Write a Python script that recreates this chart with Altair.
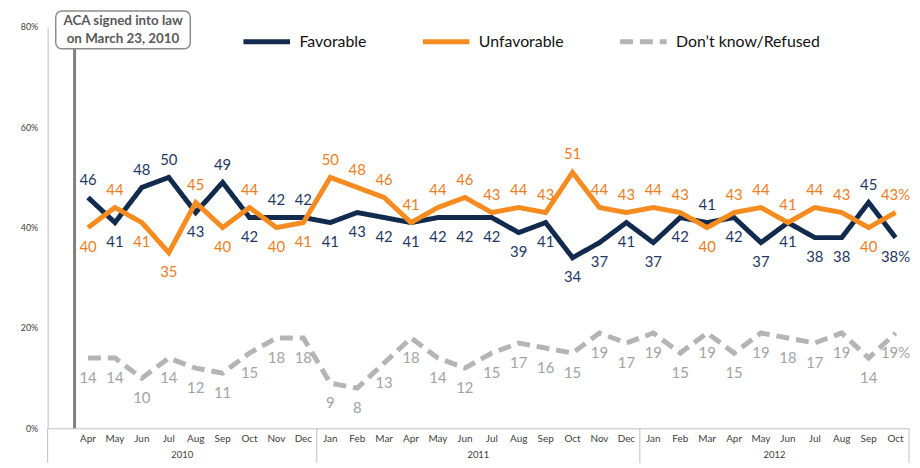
import altair as alt
import pandas as pd

# ---------------- data ----------------
months = ["Apr", "May", "Jun", "Jul", "Aug", "Sep", "Oct", "Nov", "Dec",
          "Jan", "Feb", "Mar", "Apr", "May", "Jun", "Jul", "Aug", "Sep", "Oct", "Nov", "Dec",
          "Jan", "Feb", "Mar", "Apr", "May", "Jun", "Jul", "Aug", "Sep", "Oct"]
years = [2010] * 9 + [2011] * 12 + [2012] * 10
favorable = [46, 41, 48, 50, 43, 49, 42, 42, 42,
             41, 43, 42, 41, 42, 42, 42, 39, 41, 34, 37, 41,
             37, 42, 41, 42, 37, 41, 38, 38, 45, 38]
unfavorable = [40, 44, 41, 35, 45, 40, 44, 40, 41,
               50, 48, 46, 41, 44, 46, 43, 44, 43, 51, 44, 43,
               44, 43, 40, 43, 44, 41, 44, 43, 40, 43]
dont_know = [14, 14, 10, 14, 12, 11, 15, 18, 18,
             9, 8, 13, 18, 14, 12, 15, 17, 16, 15, 19, 17,
             19, 15, 19, 15, 19, 18, 17, 19, 14, 19]
series_names = ["Favorable", "Unfavorable", "Don\u2019t know/Refused"]
year_labels = [2010, 2011, 2012]
annotation_lines = ["ACA signed into law", "on March 23, 2010"]

# ---------------- derived tables ----------------
month_num = {m: i + 1 for i, m in enumerate(
    ["Jan", "Feb", "Mar", "Apr", "May", "Jun", "Jul", "Aug", "Sep", "Oct", "Nov", "Dec"])}
START_YEAR, START_MONTH = 2010, 3        # axis starts with March 2010 (blank slot)
N_SLOTS = 32                             # Mar 2010 .. Oct 2012

df = pd.DataFrame({"month": months, "year": years,
                   "fav": favorable, "unfav": unfavorable, "dk": dont_know})
df["slot"] = (df["year"] - START_YEAR) * 12 + df["month"].map(month_num) - START_MONTH
df["xc"] = df["slot"] + 0.5
last = df.index[-1]
for k in ["fav", "unfav", "dk"]:
    df[k + "_lbl"] = df[k].astype(str)
    df.loc[last, k + "_lbl"] = df.loc[last, k + "_lbl"] + "%"

long = df.melt(id_vars=["xc"], value_vars=["fav", "unfav", "dk"],
               var_name="key", value_name="value")
long["series"] = long["key"].map(dict(zip(["fav", "unfav", "dk"], series_names)))

yr = pd.DataFrame({"year": year_labels})
yr["start"] = ((yr["year"] - START_YEAR) * 12 - (START_MONTH - 1)).clip(lower=0)
yr["end"] = ((yr["year"] - START_YEAR) * 12 + 12 - (START_MONTH - 1)).clip(upper=N_SLOTS)
yr["center"] = (yr["start"] + yr["end"]) / 2
bounds = pd.DataFrame({"b": sorted(set(yr["start"]).union(set(yr["end"])))})

aca_slot = 1.0   # end of March 2010
ann = pd.DataFrame({"x0": [aca_slot - 0.7], "x1": [aca_slot + 4.3], "xc": [aca_slot + 1.8],
                    "aca": [aca_slot]})

# ---------------- styling ----------------
W, H = 869, 405
NAVY, ORANGE, GRAY = "#112a4e", "#f68b1f", "#b4b4b4"
NAVY_T, ORANGE_T, GRAY_T = "#1f3864", "#ee7d22", "#a3a3a3"
AXIS_GRAY = "#bfbfbf"
FONT = "Lato"

x_scale = alt.Scale(domain=[0, N_SLOTS], nice=False, zero=False)
y_scale = alt.Scale(domain=[0, 80], nice=False)

legend = alt.Legend(orient="none", legendX=195, legendY=-11, direction="horizontal",
                    title=None, symbolType="stroke", symbolSize=2209, symbolStrokeWidth=5,
                    labelFontSize=16, labelFont=FONT, labelColor="#111111",
                    columnPadding=46, labelOffset=7, padding=0, labelLimit=400)

lines = alt.Chart(long).mark_line(strokeWidth=5).encode(
    x=alt.X("xc:Q", scale=x_scale,
            axis=alt.Axis(title=None, labels=False, ticks=False, grid=False,
                          domainColor=AXIS_GRAY, domainWidth=1)),
    y=alt.Y("value:Q", scale=y_scale,
            axis=alt.Axis(values=[0, 20, 40, 60, 80], labelExpr="datum.value + '%'",
                          title=None, ticks=False, grid=False, domainColor=AXIS_GRAY,
                          labelFontSize=9, labelColor="#404040", labelPadding=10,
                          labelFont=FONT)),
    color=alt.Color("series:N", scale=alt.Scale(domain=series_names, range=[NAVY, ORANGE, GRAY]),
                    legend=legend),
    strokeDash=alt.StrokeDash("series:N",
                              scale=alt.Scale(domain=series_names,
                                              range=[[1, 0], [1, 0], [13, 7]]),
                              legend=legend),
)


def label_layer(key, color, cond, dy):
    base = alt.Chart(df)
    if cond:
        base = base.transform_filter(cond)
    return base.mark_text(dy=dy, fontSize=15, font=FONT, color=color, baseline="middle").encode(
        x=alt.X("xc:Q", scale=x_scale),
        y=alt.Y(f"{key}:Q", scale=y_scale),
        text=alt.Text(f"{key}_lbl:N"),
    )


UP, DOWN = -18, 20
lbls = [
    label_layer("fav", NAVY_T, "datum.fav > datum.unfav", UP),
    label_layer("fav", NAVY_T, "datum.fav <= datum.unfav", DOWN),
    label_layer("unfav", ORANGE_T, "datum.unfav >= datum.fav", UP),
    label_layer("unfav", ORANGE_T, "datum.unfav < datum.fav", DOWN),
    label_layer("dk", GRAY_T, None, DOWN),
]

month_text = alt.Chart(df).mark_text(fontSize=10, font=FONT, color="#404040",
                                     baseline="middle").encode(
    x=alt.X("xc:Q", scale=x_scale), y=alt.value(H + 11), text="month:N")

year_text = alt.Chart(yr).mark_text(fontSize=9.5, font=FONT, color="#404040",
                                    baseline="middle").encode(
    x=alt.X("center:Q", scale=x_scale), y=alt.value(H + 27), text="year:N")

separators = alt.Chart(bounds).mark_rule(color=AXIS_GRAY, strokeWidth=1).encode(
    x=alt.X("b:Q", scale=x_scale), y=alt.value(H), y2=alt.value(H + 35))

aca_rule = alt.Chart(ann).mark_rule(color="#7f7f7f", strokeWidth=3).encode(
    x=alt.X("aca:Q", scale=x_scale), y=alt.value(22), y2=alt.value(H))

box = alt.Chart(ann).mark_rect(cornerRadius=6, fill="white", stroke="#8c8c8c",
                               strokeWidth=1.5).encode(
    x=alt.X("x0:Q", scale=x_scale), x2="x1:Q", y=alt.value(-16), y2=alt.value(22))

box_text = alt.Chart(ann).mark_text(fontSize=13.5, font=FONT, fontWeight="bold",
                                    color="#595959", baseline="middle", lineHeight=18).encode(
    x=alt.X("xc:Q", scale=x_scale), y=alt.value(-6), text=alt.value(annotation_lines))

chart = alt.layer(separators, aca_rule, box, box_text, lines, *lbls, month_text, year_text).properties(
    width=W, height=H,
    padding={"left": 40, "top": 17, "right": 3, "bottom": 36},
    autosize=alt.AutoSizeParams(type="none"),
    background="white",
).configure_view(stroke=None)

chart.save("out.html", embed_options={"renderer": "svg", "actions": False})
